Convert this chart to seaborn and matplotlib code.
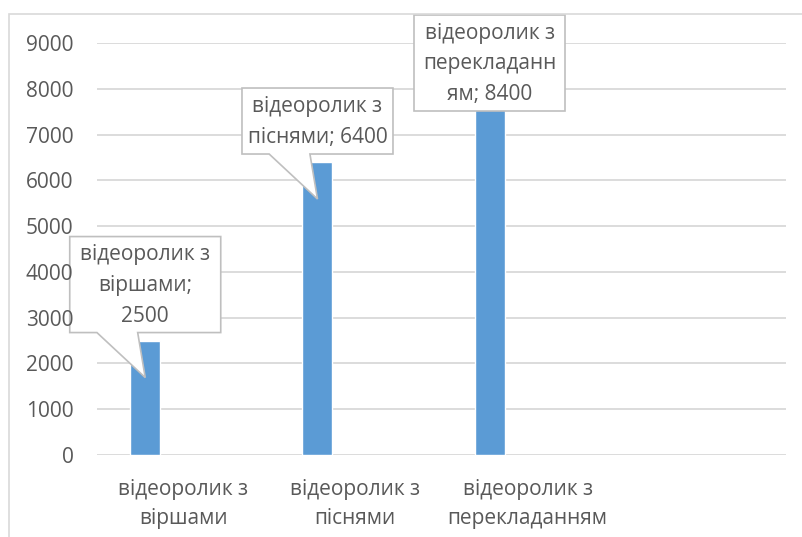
import matplotlib

matplotlib.use("Agg")
import matplotlib.pyplot as plt
import seaborn as sns
import pandas as pd
from matplotlib.patches import Polygon, Rectangle
from matplotlib.transforms import IdentityTransform

# Дані діаграми
categories = [
    "відеоролик з\nвіршами",
    "відеоролик з\nпіснями",
    "відеоролик з\nперекладанням",
]
views = [2500, 6400, 8400]
callout_texts = [
    "відеоролик з\nвіршами;\n2500",
    "відеоролик з\nпіснями; 6400",
    "відеоролик з\nперекладанн\nям; 8400",
]
y_ticks = [0, 1000, 2000, 3000, 4000, 5000, 6000, 7000, 8000, 9000]

W, H = 803, 537
TEXT = "#595959"
GRID = "#D9D9D9"
FS = 15

sns.set_theme(style="white")
plt.rcParams["font.family"] = ["Open Sans", "DejaVu Sans"]

fig = plt.figure(figsize=(W / 100, H / 100), dpi=100)
ax = fig.add_axes([97 / W, (H - 455) / H, (786 - 97) / W, (455 - 43) / H])

df = pd.DataFrame({"category": categories, "views": views})
sns.barplot(
    data=df, x="category", y="views", color="#5B9BD5",
    width=0.174, saturation=1, ax=ax, zorder=2,
)
# Excel кладе стовпчик лівіше від центру категорії
for p in ax.patches:
    p.set_x(p.get_x() - 0.22)

# сітка окремо, щоб підписи осі можна було покласти над виносками
for v in y_ticks:
    ax.axhline(v, color=GRID, linewidth=1.3, zorder=0.5)

ax.set_xlim(-0.5, 3.5)
ax.set_ylim(0, 9000)
ax.set_yticks(y_ticks)
ax.set_yticklabels([str(v) for v in y_ticks])
ax.set_xticks(range(len(categories)))
ax.set_xticklabels(categories, linespacing=1.5)
ax.set_xlabel("")
ax.set_ylabel("")
ax.grid(False)
sns.despine(ax=ax, left=True, bottom=True)
ax.tick_params(axis="y", length=0, pad=17, labelsize=FS, labelcolor=TEXT)
ax.tick_params(axis="x", length=0, pad=17, labelsize=FS, labelcolor=TEXT)
ax.yaxis.set_zorder(10)

# рамка області діаграми
fig.add_artist(Rectangle((9 / W, -0.1), 1.2, (H - 14) / H + 0.1,
                         transform=fig.transFigure, fill=False,
                         edgecolor=GRID, linewidth=1.2))

# виноски з підписами даних
box_w = 151
for p, label in zip(ax.patches, callout_texts):
    xc = p.get_x() + p.get_width() / 2
    px, py = ax.transData.transform((xc, p.get_height()))
    n_lines = label.count("\n") + 1
    box_h = 30 * n_lines + 6
    bottom = py + 8
    top = bottom + box_h
    if top > H - 15:
        top = H - 15
        bottom = top - box_h
    left = px - box_w / 2
    right = left + box_w
    tip = (px, py - 37)
    if bottom > tip[1]:
        pts = [(left, top), (right, top), (right, bottom),
               (left + 0.45 * box_w, bottom), tip,
               (left + 0.18 * box_w, bottom), (left, bottom)]
    else:
        pts = [(left, top), (right, top), (right, bottom), (left, bottom)]
    ax.add_patch(Polygon(pts, closed=True, transform=IdentityTransform(),
                         facecolor="white", edgecolor="#BFBFBF",
                         linewidth=1.2, zorder=5, clip_on=False))
    ax.text((left + right) / 2, (top + bottom) / 2 - 1, label,
            transform=IdentityTransform(), ha="center", va="center",
            multialignment="center", fontsize=FS, color=TEXT,
            linespacing=1.62, zorder=6, clip_on=False)

fig.savefig("out.png", dpi=100)
